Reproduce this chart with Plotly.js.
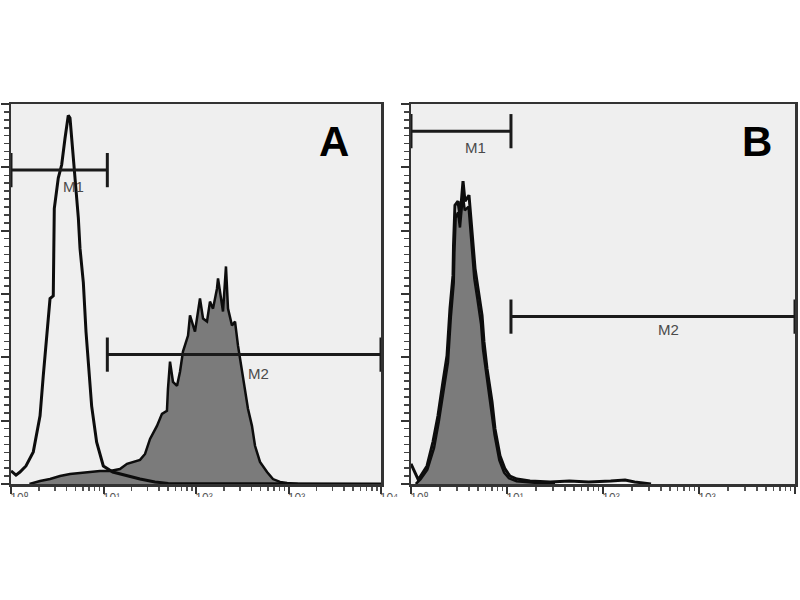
<!DOCTYPE html>
<html>
<head>
<meta charset="utf-8">
<script src="https://cdn.plot.ly/plotly-3.0.1.min.js"></script>
<style>html,body{margin:0;padding:0;background:#fff;}#chart{width:800px;height:600px;}</style>
</head>
<body>
<div id="chart"></div>
<script>
// ---- Panel A: unstained/control (open) histogram, log10 fluorescence vs count
const A_open_log = [0, 0.054, 0.097, 0.162, 0.241, 0.314, 0.349, 0.386, 0.422, 0.457, 0.468, 0.511, 0.548, 0.584, 0.619, 0.638, 0.674, 0.71, 0.728, 0.746, 0.782, 0.811, 0.836, 0.872, 0.926, 0.998, 1.1, 1.178, 1.286, 1.395, 1.557, 1.7, 4];
const A_open_cnt = [6.9, 4.7, 6.3, 9.5, 16.9, 35.9, 57, 76.5, 97.6, 99, 145, 161, 168, 182, 194, 192.6, 171, 154, 140, 124, 106, 80, 62, 41, 22, 9.5, 6.3, 5.3, 3.7, 2.6, 1.1, 0.3, 0];
// ---- Panel A: stained (filled) histogram
const A_fill_log = [0.2, 0.314, 0.422, 0.53, 0.638, 0.746, 0.854, 0.962, 1.07, 1.178, 1.254, 1.319, 1.395, 1.449, 1.503, 1.578, 1.632, 1.686, 1.697, 1.719, 1.751, 1.795, 1.827, 1.859, 1.914, 1.935, 1.989, 2.043, 2.076, 2.119, 2.151, 2.184, 2.227, 2.238, 2.27, 2.292, 2.324, 2.346, 2.389, 2.422, 2.454, 2.497, 2.53, 2.562, 2.605, 2.638, 2.692, 2.768, 2.832, 2.908, 2.984, 3.1];
const A_fill_cnt = [0, 1.6, 2.6, 4.2, 5.3, 5.8, 6.3, 6.9, 6.9, 7.9, 10.6, 11.6, 12.7, 15.8, 23.7, 30.6, 36.9, 38.5, 50.1, 64.4, 53.8, 51.7, 59.1, 69.7, 78.1, 88.7, 80.2, 97.6, 87.1, 85.5, 96, 92.3, 102.9, 108.2, 99.2, 90.8, 114.5, 92.3, 83.4, 85.5, 72.8, 59.1, 48.5, 39.6, 30.6, 20.1, 11.6, 6.3, 2.6, 1.1, 0.5, 0];
// ---- Panel B: control (open) histogram
const B_open_log = [0, 0.073, 0.094, 0.167, 0.229, 0.281, 0.333, 0.375, 0.406, 0.4375, 0.443, 0.458, 0.49, 0.51, 0.542, 0.5625, 0.604, 0.635, 0.667, 0.698, 0.74, 0.76, 0.792, 0.844, 0.875, 0.927, 0.979, 1.031, 1.104, 1.24, 1.45, 1.65, 1.85, 2.08, 2.23, 2.33, 2.5];
const B_open_cnt = [10.6, 2.6, 3.7, 9.5, 22.2, 35.9, 53.8, 67.5, 92.3, 109.8, 125.6, 146.7, 148.8, 139.8, 159.4, 148.8, 152, 133, 113.5, 102.9, 88.7, 74.9, 60.7, 43.3, 29, 14.8, 7.9, 4.2, 2.6, 1.6, 1.1, 1.6, 1.1, 1.6, 2.1, 1.1, 0];
// ---- Panel B: stained (filled) histogram
const B_fill_log = [0.05, 0.1, 0.17, 0.24, 0.29, 0.34, 0.385, 0.415, 0.445, 0.452, 0.465, 0.49, 0.51, 0.54, 0.56, 0.6, 0.63, 0.66, 0.69, 0.73, 0.75, 0.785, 0.835, 0.87, 0.92, 0.97, 1.02, 1.1, 1.3, 1.5];
const B_fill_cnt = [0, 2.5, 7.5, 19, 33, 50, 64, 88, 106, 122, 140, 143, 135, 152, 144, 146, 128, 108, 98, 84, 71, 57, 40, 26, 12.5, 6, 3, 1.5, 0.6, 0];
// ---- Gates: [low, high, level]
const gateNames = ['M1', 'M2'];
const gatesA = [[1, 11, 165.2], [11, 10000, 68.1]];
const gatesB = [[1, 11, 185.7], [11, 10000, 88.1]];
const gateLabelA = [[4.7, 156.7], [468, 58]];
const gateLabelB = [[4.75, 177.3], [479, 81.3]];
// ---- Axis ticks
const decadeVals = [1, 10, 100, 1000, 10000];
const decadeText = ['10⁰', '10¹', '10²', '10³', '10⁴'];
const panelLetters = ['A', 'B'];
const letterPos = [[3090, 180.5], [3980, 180.5]];

const toX = arr => arr.map(v => Math.pow(10, v));
const GRAY = '#7b7b7b';
const INK = '#0d0d0d';

function gateTrace(g, xa, ya) {
  const [lo, hi, lv] = g; const h = 9;
  return {
    type: 'scatter', mode: 'lines', xaxis: xa, yaxis: ya, hoverinfo: 'skip', showlegend: false,
    x: [lo, lo, null, lo, hi, null, hi, hi],
    y: [lv - h, lv + h, null, lv, lv, null, lv - h, lv + h],
    line: {color: '#1a1a1a', width: 3}, cliponaxis: false
  };
}

const traces = [
  {type: 'scatter', mode: 'lines', x: toX(A_fill_log), y: A_fill_cnt, xaxis: 'x', yaxis: 'y',
   fill: 'tozeroy', fillcolor: GRAY, line: {color: INK, width: 2.5}, showlegend: false},
  {type: 'scatter', mode: 'lines', x: toX(A_open_log), y: A_open_cnt, xaxis: 'x', yaxis: 'y',
   line: {color: INK, width: 3}, showlegend: false},
  {type: 'scatter', mode: 'lines', x: toX(B_fill_log), y: B_fill_cnt, xaxis: 'x2', yaxis: 'y2',
   fill: 'tozeroy', fillcolor: GRAY, line: {color: INK, width: 2.5}, showlegend: false},
  {type: 'scatter', mode: 'lines', x: toX(B_open_log), y: B_open_cnt, xaxis: 'x2', yaxis: 'y2',
   line: {color: INK, width: 3}, showlegend: false},
  ...gatesA.map(g => gateTrace(g, 'x', 'y')),
  ...gatesB.map(g => gateTrace(g, 'x2', 'y2'))
];

const minorVals = [];
for (let d = 0; d < 4; d++) for (let k = 2; k <= 9; k++) minorVals.push(k * Math.pow(10, d));

function xAxis(dom) {
  return {
    type: 'log', range: [0, 4], domain: dom, showgrid: false, zeroline: false,
    showline: true, mirror: true, linecolor: '#333', linewidth: 2.5,
    ticks: 'outside', ticklen: 7, tickwidth: 2, tickcolor: '#333',
    tickvals: decadeVals, ticktext: decadeText, ticklabelshift: 8, ticklabelstandoff: -6,
    tickfont: {family: 'Liberation Sans, Arial, sans-serif', size: 12, color: '#555'},
    minor: {tickvals: minorVals, ticks: 'outside', ticklen: 4, tickcolor: '#555', tickwidth: 1.5}
  };
}
function yAxis(anchor) {
  return {
    anchor: anchor, range: [0, 200], domain: [116 / 600, 496 / 600], showgrid: false, zeroline: false,
    showline: true, mirror: true, linecolor: '#333', linewidth: 2.5,
    ticks: 'outside', tick0: 0, dtick: 200 / 6, ticklen: 8, tickwidth: 2, tickcolor: '#333',
    showticklabels: false,
    minor: {dtick: 200 / 48, ticks: 'outside', ticklen: 5, tickcolor: '#444', tickwidth: 1.5}
  };
}

const annotations = [];
const lblFont = {family: 'Liberation Sans, Arial, sans-serif', size: 15, color: '#4a4a4a'};
gateLabelA.forEach((p, i) => annotations.push({xref: 'x', yref: 'y', x: Math.log10(p[0]), y: p[1], text: gateNames[i], showarrow: false, font: lblFont}));
gateLabelB.forEach((p, i) => annotations.push({xref: 'x2', yref: 'y2', x: Math.log10(p[0]), y: p[1], text: gateNames[i], showarrow: false, font: lblFont}));
panelLetters.forEach((t, i) => annotations.push({
  xref: i === 0 ? 'x' : 'x2', yref: i === 0 ? 'y' : 'y2', x: Math.log10(letterPos[i][0]), y: letterPos[i][1],
  text: '<b>' + t + '</b>', showarrow: false,
  font: {family: 'Liberation Sans, Arial, sans-serif', size: 42, color: '#000'}
}));

const layout = {
  width: 800, height: 600,
  margin: {l: 0, r: 0, t: 0, b: 0},
  paper_bgcolor: '#ffffff', plot_bgcolor: '#efefef',
  showlegend: false,
  xaxis: Object.assign(xAxis([11 / 800, 381 / 800]), {anchor: 'y'}),
  yaxis: yAxis('x'),
  xaxis2: Object.assign(xAxis([411 / 800, 795 / 800]), {anchor: 'y2'}),
  yaxis2: yAxis('x2'),
  annotations: annotations,
  shapes: [{type: 'rect', xref: 'paper', yref: 'paper', x0: 0, x1: 1, y0: -0.05, y1: (600 - 497) / 600,
            fillcolor: '#ffffff', line: {width: 0}, layer: 'above'}]
};

Plotly.newPlot('chart', traces, layout, {displayModeBar: false, staticPlot: true});
</script>
</body>
</html>
